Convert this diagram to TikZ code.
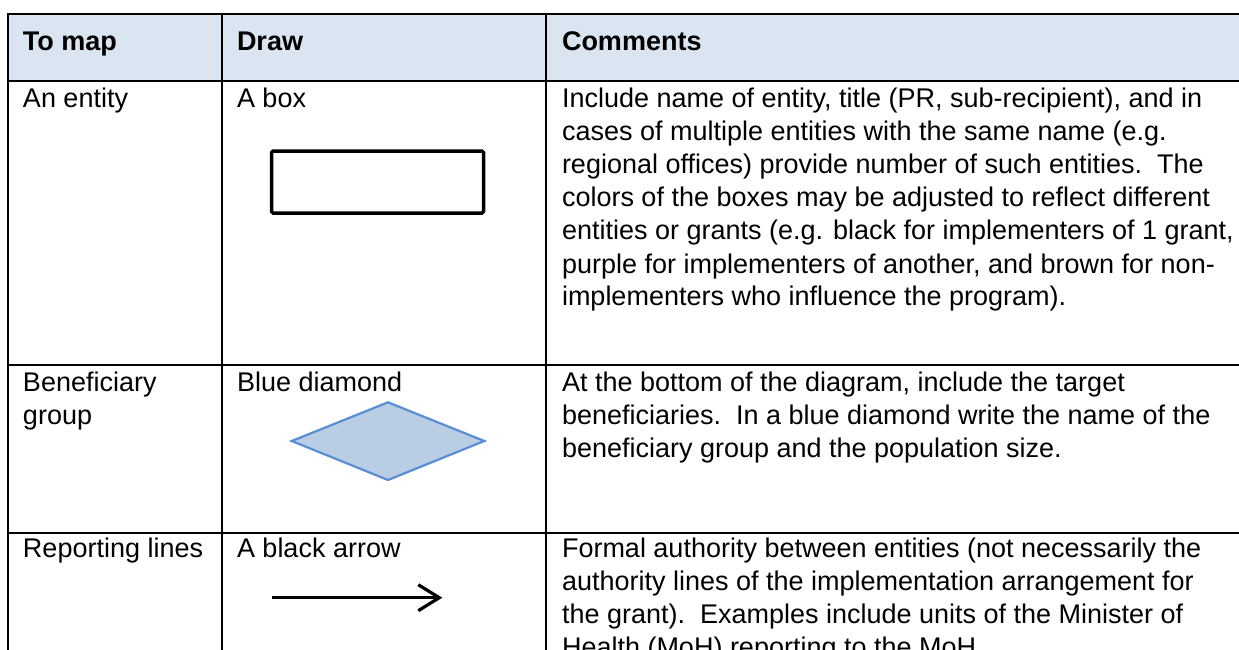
\documentclass[tikz,border=0pt]{standalone}
\usepackage{fontspec}
\setmainfont{Liberation Sans}
\usetikzlibrary{arrows.meta}
\definecolor{headfill}{HTML}{DBE5F1}
\definecolor{diafill}{HTML}{B9CDE5}
\definecolor{diadraw}{HTML}{5A8ED4}
\newcommand\cellrows[1]{\begin{tabular}[t]{@{}l@{}}#1\end{tabular}}
\begin{document}
\begin{tikzpicture}[x=1pt,y=-1pt,
  cell/.style={anchor=base west, inner sep=0pt, outer sep=0pt, font=\fontsize{27}{33}\selectfont},
  headcell/.style={cell, font=\fontsize{27}{33}\selectfont\bfseries},
  rule/.style={line width=2pt, black},
  entitybox/.style={draw, line width=3.5pt, rounded corners=1.5pt, minimum width=212pt, minimum height=62pt, inner sep=0pt},
  reparrow/.style={line width=3.2pt, -{Straight Barb[length=21pt, width=26pt, line width=3.2pt]}}
]
\useasboundingbox (0,0) rectangle (1239,650);
\clip (0,0) rectangle (1239,650);
% header fill
\fill[headfill] (8,14) rectangle (1245,81);
% rules
\draw[rule] (7,14) -- (1245,14);
\draw[rule] (8,81) -- (1245,81);
\draw[rule] (8,365) -- (1245,365);
\draw[rule] (8,533) -- (1245,533);
\draw[rule] (8,13) -- (8,660);
\draw[rule] (222,13) -- (222,660);
\draw[rule] (546,13) -- (546,660);
% header
\node[headcell] (h1) at (23,51) {To map};
\node[headcell] (h2) at (237,51) {Draw};
\node[headcell] (h3) at (562,51) {Comments};
% row 1
\node[cell] (r1a) at (23,108) {\cellrows{An entity}};
\node[cell] (r1b) at (237,108) {\cellrows{A box}};
\node[cell] (r1c) at (562,108) {\cellrows{Include name of entity, title (PR, sub-recipient), and in\\
cases of multiple entities with the same name (e.g.\\
regional offices) provide number of such entities.\ \ The\\
colors of the boxes may be adjusted to reflect different\\
entities or grants (e.g. black for implementers of 1 grant,\\
purple for implementers of another, and brown for non-\\
implementers who influence the program).}};
\node[entitybox] (ebox) at (377.5,182) {};
% row 2
\node[cell] (r2a) at (23,391) {\cellrows{Beneficiary\\group}};
\node[cell] (r2b) at (237,391) {\cellrows{Blue diamond}};
\node[cell] (r2c) at (562,391) {\cellrows{At the bottom of the diagram, include the target\\
beneficiaries.\ \ In a blue diamond write the name of the\\
beneficiary group and the population size.}};
\draw[fill=diafill, draw=diadraw, line width=2.2pt, line join=miter]
  (291.7,441) -- (388,402.3) -- (484.3,441) -- (388,480) -- cycle;
% row 3
\node[cell] (r3a) at (23,557) {\cellrows{Reporting lines}};
\node[cell] (r3b) at (237,557) {\cellrows{A black arrow}};
\node[cell] (r3c) at (562,557) {\cellrows{Formal authority between entities (not necessarily the\\
authority lines of the implementation arrangement for\\
the grant).\ \ Examples include units of the Minister of\\
Health (MoH) reporting to the MoH.}};
\coordinate (arrS) at (271.7,597.7);
\coordinate (arrE) at (442.3,597.7);
\draw[reparrow] (arrS) -- (arrE);
\end{tikzpicture}
\end{document}
